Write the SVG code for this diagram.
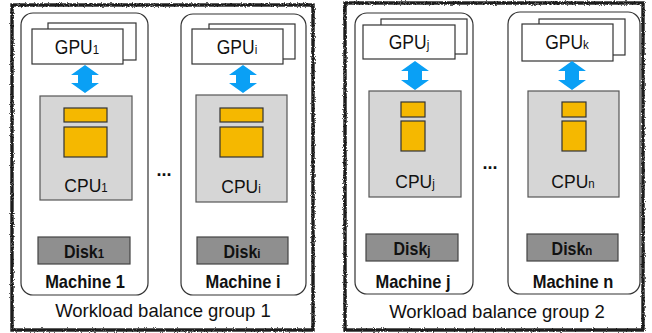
<svg xmlns="http://www.w3.org/2000/svg" width="652" height="333" viewBox="0 0 652 333">
<defs>
<filter id="rough" x="-5%" y="-5%" width="110%" height="110%">
<feTurbulence type="fractalNoise" baseFrequency="0.9" numOctaves="2" seed="3" result="n"/>
<feDisplacementMap in="SourceGraphic" in2="n" scale="3" xChannelSelector="R" yChannelSelector="G"/>
</filter>
</defs>
<style>
text{font-family:"Liberation Sans",Arial,sans-serif;fill:#111;text-anchor:middle}
.grp{fill:none;stroke:#1a1a1a;stroke-width:3.4}
.mach{fill:#fff;stroke:#333;stroke-width:1.2}
.gpu{fill:#fff;stroke:#333;stroke-width:1.2}
.cpu{fill:#d6d6d6;stroke:#555;stroke-width:1.2}
.core{fill:#f5b800;stroke:#333;stroke-width:1.2}
.disk{fill:#8f8f8f;stroke:#444;stroke-width:1.2}
.arr{fill:#0aa0f5}
.lbl{font-size:17.5px}
.dsk{font-size:16px;font-weight:bold}
.mlb{font-size:16.5px;font-weight:bold}
.wl{font-size:18.5px}
.sub{font-size:11.5px}
.dots{font-size:18px;font-weight:bold}
</style>
<g id="group1">
<rect class="grp" x="12" y="5" width="301" height="325" filter="url(#rough)"/>
<text class="wl" x="163" y="317">Workload balance group 1</text>
</g>
<g id="group2">
<rect class="grp" x="345" y="3" width="298" height="327" filter="url(#rough)"/>
<text class="wl" x="497" y="318">Workload balance group 2</text>
</g>
<g id="machine1">
<rect class="mach" x="21" y="13" width="127" height="282" rx="12"/>
<rect class="gpu" x="48" y="23" width="88" height="37"/>
<rect class="gpu" x="32" y="29" width="91" height="35"/>
<text class="lbl" transform="translate(77,54) scale(1,1.15)">GPU<tspan class="sub">1</tspan></text>
<rect class="cpu" x="40" y="96" width="92" height="104"/>
<rect class="core" x="64" y="108" width="43" height="14"/>
<rect class="core" x="64" y="127" width="43" height="30"/>
<text class="lbl" transform="translate(86,192) scale(1,1.1)">CPU<tspan class="sub">1</tspan></text>
<rect class="disk" x="38" y="237" width="92" height="27"/>
<text class="dsk" transform="translate(84,258) scale(1,1.1)">Disk<tspan class="sub">1</tspan></text>
<text class="mlb" transform="translate(85,288) scale(1,1.15)">Machine 1</text>
</g>
<g id="machinei">
<rect class="mach" x="181" y="14" width="125" height="281" rx="12"/>
<rect class="gpu" x="209" y="24" width="86" height="35"/>
<rect class="gpu" x="192" y="29" width="91" height="35"/>
<text class="lbl" transform="translate(237,54) scale(1,1.15)">GPU<tspan class="sub">i</tspan></text>
<rect class="cpu" x="196" y="95" width="91" height="107"/>
<rect class="core" x="220" y="108" width="43" height="14"/>
<rect class="core" x="220" y="127" width="43" height="30"/>
<text class="lbl" transform="translate(241,193) scale(1,1.1)">CPU<tspan class="sub">i</tspan></text>
<rect class="disk" x="197" y="237" width="91" height="27"/>
<text class="dsk" transform="translate(242,258) scale(1,1.1)">Disk<tspan class="sub">i</tspan></text>
<text class="mlb" transform="translate(243,288) scale(1,1.15)">Machine i</text>
</g>
<g id="machinej">
<rect class="mach" x="355" y="13" width="118" height="281" rx="12"/>
<rect class="gpu" x="381" y="19" width="86" height="35"/>
<rect class="gpu" x="363" y="25" width="92" height="34"/>
<text class="lbl" transform="translate(409,49) scale(1,1.15)">GPU<tspan class="sub">j</tspan></text>
<rect class="cpu" x="369" y="91" width="92" height="106"/>
<rect class="core" x="401" y="102" width="24" height="15"/>
<rect class="core" x="401" y="121" width="24" height="30"/>
<text class="lbl" transform="translate(415,188) scale(1,1.1)">CPU<tspan class="sub">j</tspan></text>
<rect class="disk" x="366" y="234" width="92" height="27"/>
<text class="dsk" transform="translate(412,255) scale(1,1.1)">Disk<tspan class="sub">j</tspan></text>
<text class="mlb" transform="translate(413,288) scale(1,1.15)">Machine j</text>
</g>
<g id="machinen">
<rect class="mach" x="508" y="12" width="132" height="282" rx="12"/>
<rect class="gpu" x="539" y="19" width="86" height="36"/>
<rect class="gpu" x="522" y="24" width="91" height="37"/>
<text class="lbl" transform="translate(567,49) scale(1,1.15)">GPU<tspan class="sub">k</tspan></text>
<rect class="cpu" x="528" y="91" width="91" height="106"/>
<rect class="core" x="562" y="102" width="24" height="15"/>
<rect class="core" x="562" y="121" width="24" height="30"/>
<text class="lbl" transform="translate(573,188) scale(1,1.1)">CPU<tspan class="sub">n</tspan></text>
<rect class="disk" x="527" y="234" width="91" height="27"/>
<text class="dsk" transform="translate(572,255) scale(1,1.1)">Disk<tspan class="sub">n</tspan></text>
<text class="mlb" transform="translate(573,288) scale(1,1.15)">Machine n</text>
</g>
<g id="ellipses">
<text class="dots" x="164" y="176">...</text>
<text class="dots" x="490" y="169">...</text>
</g>
<g id="connectors">
<path class="arr" d="M85,65 L99,75 L92,75 L92,83 L99,83 L85,93 L71,83 L78,83 L78,75 L71,75 Z"/>
<path class="arr" d="M243,65 L257,75 L250,75 L250,83 L257,83 L243,93 L229,83 L236,83 L236,75 L229,75 Z"/>
<path class="arr" d="M415,61 L429,71 L422,71 L422,80 L429,80 L415,90 L401,80 L408,80 L408,71 L401,71 Z"/>
<path class="arr" d="M572,61 L586,71 L579,71 L579,80 L586,80 L572,90 L558,80 L565,80 L565,71 L558,71 Z"/>
</g>
</svg>
